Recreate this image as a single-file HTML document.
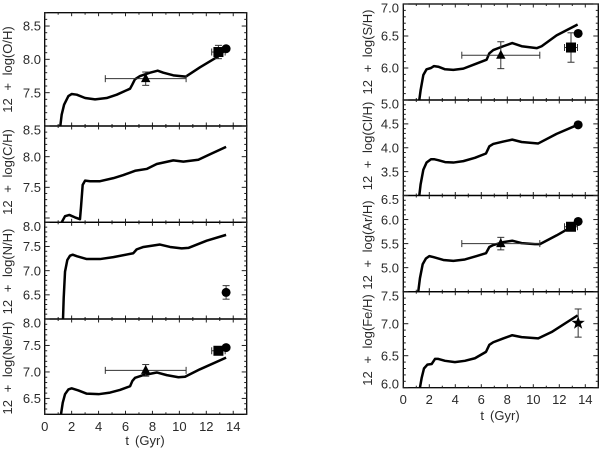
<!DOCTYPE html>
<html>
<head>
<meta charset="utf-8">
<style>
html,body{margin:0;padding:0;background:#fff;}
svg{display:block;filter:blur(0.35px);}
text{font-family:"Liberation Sans",sans-serif;font-size:13px;fill:#2a2a2a;}
</style>
</head>
<body>
<svg id="chart" xmlns="http://www.w3.org/2000/svg" width="600" height="450" viewBox="0 0 600 450"></svg>
<script>
const tO=[1.16,1.26,1.44,1.76,2.0,2.38,3.0,3.74,4.6,5.35,6.34,6.5,6.7,7.08,7.82,8.39,8.81,9.55,10.47,11.53,12.77,13.42];
const vO=[7.0,7.17,7.32,7.45,7.48,7.47,7.42,7.40,7.42,7.47,7.56,7.62,7.70,7.75,7.80,7.83,7.80,7.76,7.74,7.88,8.03,8.14];
const tC=[1.26,1.51,1.83,2.25,2.62,2.70,2.82,3.0,3.37,4.11,5.1,5.84,6.71,7.57,8.32,9.55,10.3,11.41,12.28,13.47];
const vC=[6.93,7.03,7.05,7.01,6.98,7.19,7.54,7.61,7.60,7.60,7.65,7.70,7.77,7.80,7.88,7.94,7.92,7.95,8.04,8.16];
const tN=[1.36,1.41,1.51,1.68,1.88,2.08,2.38,3.12,4.11,5.1,6.58,6.83,7.33,8.56,9.31,10.17,10.67,12.03,13.47];
const vN=[6.0,6.43,6.98,7.22,7.31,7.33,7.30,7.24,7.24,7.28,7.36,7.44,7.49,7.54,7.49,7.46,7.47,7.62,7.74];
const tNe=[1.21,1.34,1.51,1.76,2.0,2.5,3.12,4.0,4.85,5.59,6.34,6.51,6.71,7.33,8.32,9.06,9.93,10.42,11.53,13.47];
const vNe=[6.2,6.42,6.58,6.67,6.69,6.65,6.59,6.58,6.61,6.66,6.73,6.83,6.89,6.94,6.99,6.94,6.90,6.91,7.05,7.27];
const tS=[1.23,1.33,1.54,1.79,2.13,2.36,2.69,3.21,3.85,4.62,5.51,6.41,6.62,6.92,7.69,8.38,9.1,10.26,10.64,11.79,13.41];
const vS=[5.5,5.65,5.89,5.98,6.0,6.03,6.02,5.98,5.97,5.99,6.06,6.13,6.23,6.28,6.34,6.39,6.34,6.31,6.34,6.51,6.68];
const tCl=[1.23,1.33,1.54,1.79,2.13,2.36,2.69,3.21,3.85,4.62,5.51,6.36,6.62,6.92,7.69,8.38,9.1,10.38,11.79,13.41];
const vCl=[3.0,3.23,3.54,3.69,3.76,3.76,3.74,3.70,3.69,3.72,3.79,3.88,4.03,4.08,4.13,4.17,4.12,4.09,4.29,4.48];
const tAr=[1.15,1.28,1.49,1.74,2.0,2.31,3.08,3.85,4.74,5.64,6.36,6.62,6.92,7.69,8.38,9.1,10.13,10.51,11.79,13.4];
const vAr=[4.5,4.78,5.07,5.19,5.24,5.22,5.16,5.14,5.17,5.24,5.30,5.43,5.47,5.53,5.56,5.51,5.49,5.49,5.67,5.92];
const tFe=[1.28,1.41,1.59,1.85,2.18,2.44,2.69,3.21,3.97,4.74,5.51,6.36,6.62,6.92,7.69,8.38,9.1,10.38,11.41,13.41];
const vFe=[6.0,6.15,6.3,6.36,6.37,6.45,6.45,6.42,6.40,6.42,6.46,6.56,6.67,6.71,6.77,6.82,6.79,6.77,6.87,7.13];

const obsO=[{k:'triangle',t:7.5,v:7.71,te:3,ve:0.1},{k:'square',t:12.9,v:8.11,te:0.5,ve:0.1},{k:'circle',t:13.47,v:8.16,te:0,ve:0}];
const obsC=[];
const obsN=[{k:'circle',t:13.47,v:6.55,te:0,ve:0.14}];
const obsNe=[{k:'triangle',t:7.5,v:7.03,te:3,ve:0.11},{k:'square',t:12.9,v:7.4,te:0.5,ve:0.08},{k:'circle',t:13.47,v:7.46,te:0,ve:0}];
const obsS=[{k:'triangle',t:7.5,v:6.2,te:3,ve:0.21},{k:'square',t:12.9,v:6.32,te:0.5,ve:0.23},{k:'circle',t:13.45,v:6.54,te:0,ve:0}];
const obsCl=[{k:'circle',t:13.45,v:4.48,te:0,ve:0}];
const obsAr=[{k:'triangle',t:7.5,v:5.5,te:3,ve:0.13},{k:'square',t:12.9,v:5.85,te:0.5,ve:0.08},{k:'circle',t:13.45,v:5.96,te:0,ve:0}];
const obsFe=[{k:'star',t:13.45,v:7.01,te:0,ve:0.22}];

const ticksO=[8.5,8.0,7.5];
const ticksC=[8.5,8.0,7.5];
const ticksN=[8.0,7.5,7.0,6.5];
const ticksNe=[8.0,7.5,7.0,6.5];
const ticksS=[7.0,6.5,6.0];
const ticksCl=[5.0,4.5,4.0,3.5];
const ticksAr=[6.5,6.0,5.5,5.0];
const ticksFe=[7.5,7.0,6.5,6.0];
const xTickLabels=[0,2,4,6,8,10,12,14];

const svg=document.getElementById('chart');
const NS='http://www.w3.org/2000/svg';
function mk(tag,attrs,name,parent){
  const el=document.createElementNS(NS,tag);
  for(const k in attrs){el.setAttribute(k,attrs[k]);}
  
  
  (parent||svg).appendChild(el);
  return el;
}
const columns={
  left:{x0:44.7,x1:246.7,labelRight:41,titleX:12,xLabelY:431,xTitleY:445,xTitleX:145},
  right:{x0:403.3,x1:598.3,labelRight:399,titleX:372,xLabelY:404,xTitleY:420,xTitleX:500}
};
const panels=[
  {id:'o',col:'left',top:12.7,bottom:126,min:7.0,max:8.7,t:tO,v:vO,obs:obsO,ticks:ticksO,title:'12 + log(O/H)',titleY:69.5,bottomAxis:false},
  {id:'c',col:'left',top:126,bottom:222.3,min:6.93,max:8.5,t:tC,v:vC,obs:obsC,ticks:ticksC,title:'12 + log(C/H)',titleY:172,bottomAxis:false},
  {id:'n',col:'left',top:222.3,bottom:319,min:6.0,max:8.0,t:tN,v:vN,obs:obsN,ticks:ticksN,title:'12 + log(N/H)',titleY:271.5,bottomAxis:false},
  {id:'ne',col:'left',top:319,bottom:414.3,min:6.2,max:8.0,t:tNe,v:vNe,obs:obsNe,ticks:ticksNe,title:'12 + log(Ne/H)',titleY:368,bottomAxis:true},
  {id:'s',col:'right',top:4,bottom:100,min:5.5,max:7.0,t:tS,v:vS,obs:obsS,ticks:ticksS,title:'12 + log(S/H)',titleY:52,bottomAxis:false},
  {id:'cl',col:'right',top:100,bottom:195.5,min:3.0,max:5.0,t:tCl,v:vCl,obs:obsCl,ticks:ticksCl,title:'12 + log(Cl/H)',titleY:146,bottomAxis:false},
  {id:'ar',col:'right',top:195.5,bottom:291.7,min:4.5,max:6.5,t:tAr,v:vAr,obs:obsAr,ticks:ticksAr,title:'12 + log(Ar/H)',titleY:245,bottomAxis:false},
  {id:'fe',col:'right',top:291.7,bottom:387.7,min:6.0,max:7.5,t:tFe,v:vFe,obs:obsFe,ticks:ticksFe,title:'12 + log(Fe/H)',titleY:340,bottomAxis:true}
];
const T_MIN=0,T_MAX=15;

panels.forEach(function(p){
  const c=columns[p.col];
  const sx=function(t){return c.x0+(t-T_MIN)/(T_MAX-T_MIN)*(c.x1-c.x0);};
  const sy=function(v){return p.bottom-(v-p.min)/(p.max-p.min)*(p.bottom-p.top);};
  const g=mk('g',{},'panel-'+p.id);
  const clipId='clip-'+p.id;
  const defs=mk('defs',{},'panel-clip-defs',g);
  const cp=mk('clipPath',{id:clipId},'panel-clip',defs);
  mk('rect',{x:c.x0,y:p.top,width:c.x1-c.x0,height:p.bottom-p.top},'panel-clip-rect',cp);

  // model curve
  const pts=p.t.map(function(t,i){return sx(t).toFixed(2)+','+sy(p.v[i]).toFixed(2);}).join(' ');
  mk('polyline',{points:pts,fill:'none',stroke:'#000','stroke-width':2.5,'stroke-linejoin':'round','clip-path':'url(#'+clipId+')'},'model-curve-'+p.id,g);

  // observations
  p.obs.forEach(function(o){
    const x=sx(o.t),y=sy(o.v),cap=3.5;
    const eg=mk('g',{stroke:'#333','stroke-width':1,fill:'none'},'observation-'+o.k+'-'+p.id,g);
    if(o.te){
      mk('line',{x1:sx(o.t-o.te),x2:sx(o.t+o.te),y1:y,y2:y},'x-error-bar',eg);
      mk('line',{x1:sx(o.t-o.te),x2:sx(o.t-o.te),y1:y-cap,y2:y+cap},'x-error-cap',eg);
      mk('line',{x1:sx(o.t+o.te),x2:sx(o.t+o.te),y1:y-cap,y2:y+cap},'x-error-cap',eg);
    }
    if(o.ve){
      mk('line',{x1:x,x2:x,y1:sy(o.v-o.ve),y2:sy(o.v+o.ve)},'y-error-bar',eg);
      mk('line',{x1:x-cap,x2:x+cap,y1:sy(o.v-o.ve),y2:sy(o.v-o.ve)},'y-error-cap',eg);
      mk('line',{x1:x-cap,x2:x+cap,y1:sy(o.v+o.ve),y2:sy(o.v+o.ve)},'y-error-cap',eg);
    }
    if(o.k==='circle'){
      mk('circle',{cx:x,cy:y,r:4.5,fill:'#000'},'circle-marker',g);
    }else if(o.k==='square'){
      mk('rect',{x:x-5,y:y-5,width:10,height:10,fill:'#000'},'square-marker',g);
    }else if(o.k==='triangle'){
      mk('polygon',{points:[x,y-5.5,x+4.7,y+3.5,x-4.7,y+3.5].join(','),fill:'#000'},'triangle-marker',g);
    }else if(o.k==='star'){
      const s=[];
      for(let i=0;i<10;i++){
        const r=i%2?2.8:7,a=-Math.PI/2+i*Math.PI/5;
        s.push((x+r*Math.cos(a)).toFixed(2)+','+(y+r*Math.sin(a)).toFixed(2));
      }
      mk('polygon',{points:s.join(' '),fill:'#000'},'star-marker',g);
    }
  });

  // frame
  mk('rect',{x:c.x0,y:p.top,width:c.x1-c.x0,height:p.bottom-p.top,fill:'none',stroke:'#000','stroke-width':1.3},'panel-frame',g);

  // x ticks
  const tk=mk('g',{stroke:'#222','stroke-width':1},'ticks',g);
  for(let t=T_MIN;t<=T_MAX;t+=1){
    const len=t%2===0?3.5:2,x=sx(t);
    mk('line',{x1:x,x2:x,y1:p.top,y2:p.top+len},'x-tick-top',tk);
    mk('line',{x1:x,x2:x,y1:p.bottom,y2:p.bottom-len},'x-tick-bottom',tk);
  }
  // y ticks (minor every 0.1)
  const first=Math.ceil(p.min*10-1e-6),last=Math.floor(p.max*10+1e-6);
  for(let i=first;i<=last;i++){
    const y=sy(i/10),len=i%5===0?5:2.5;
    mk('line',{x1:c.x0,x2:c.x0+len,y1:y,y2:y},'y-tick-left',tk);
    mk('line',{x1:c.x1,x2:c.x1-len,y1:y,y2:y},'y-tick-right',tk);
  }
  // y labels
  p.ticks.forEach(function(v){
    const y=Math.min(p.bottom-4,Math.max(p.top+4,sy(v)));
    const el=mk('text',{x:c.labelRight,y:y+4.7,'text-anchor':'end'},'y-tick-label',g);
    el.textContent=v.toFixed(1);
  });
  // y title
  const tt=mk('text',{x:c.titleX,y:p.titleY,'text-anchor':'middle','word-spacing':'4px',transform:'rotate(-90 '+c.titleX+' '+p.titleY+')'},'y-axis-title',g);
  tt.textContent=p.title;

  if(p.bottomAxis){
    xTickLabels.forEach(function(t){
      const el=mk('text',{x:sx(t),y:c.xLabelY,'text-anchor':'middle'},'x-tick-label',g);
      el.textContent=t;
    });
    const xt=mk('text',{x:c.xTitleX,y:c.xTitleY,'text-anchor':'middle','word-spacing':'2.5px'},'x-axis-title',g);
    xt.textContent='t (Gyr)';
  }
});
</script>
</body>
</html>
